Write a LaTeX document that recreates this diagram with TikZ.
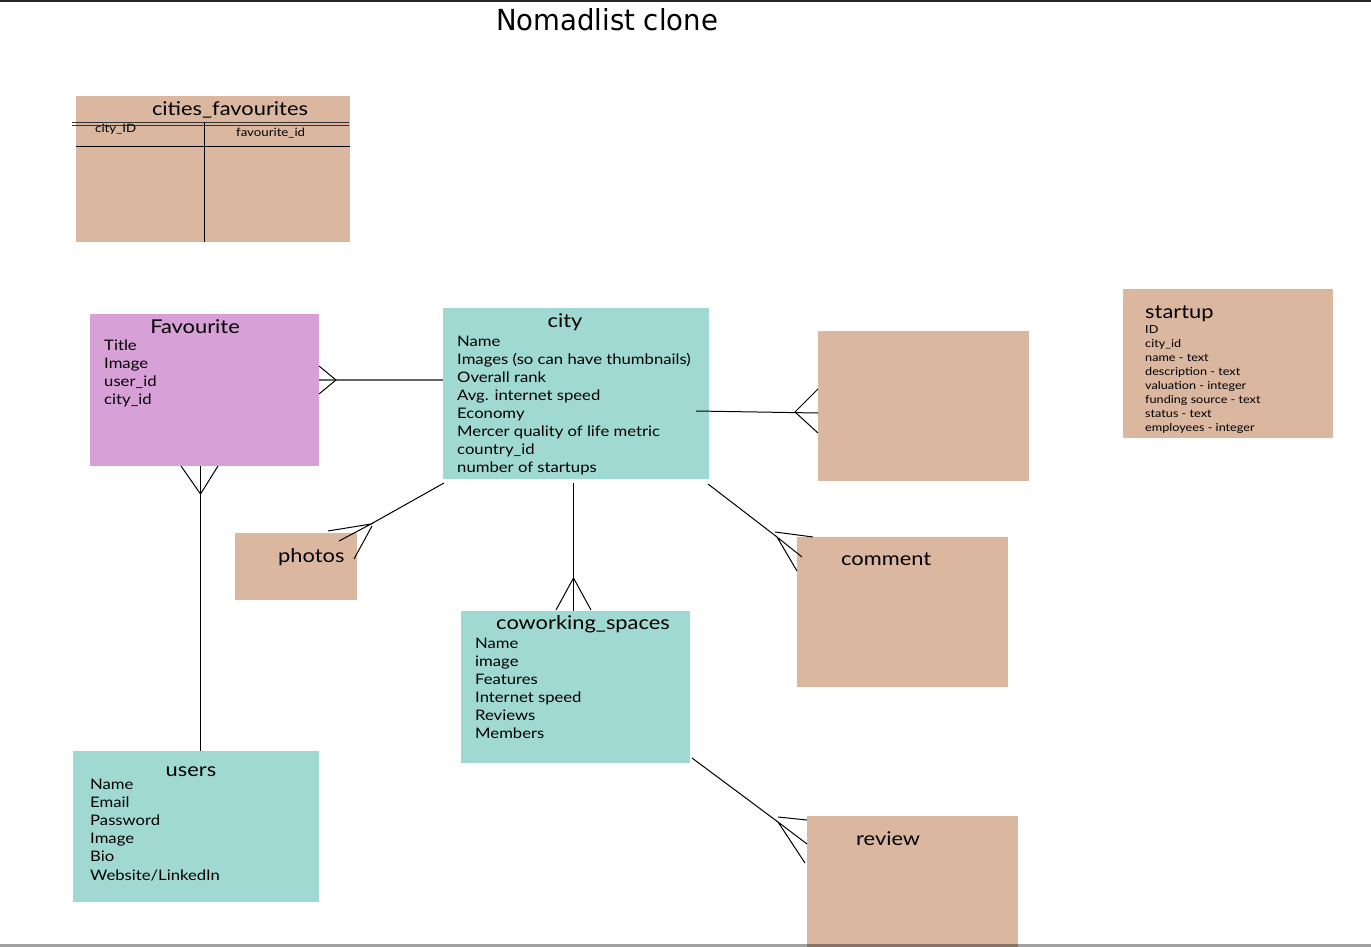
\documentclass[tikz,border=0pt]{standalone}
\usepackage{fontspec}
\setmainfont[FakeStretch=1.15]{Lato}
\newfontfamily\titlefont[FakeStretch=0.95]{DejaVu Sans}
\definecolor{tan}{RGB}{219,183,160}
\definecolor{teal}{RGB}{160,217,210}
\definecolor{lilac}{RGB}{215,161,215}
\begin{document}
\begin{tikzpicture}[x=1pt,y=-1pt,
  ent/.style={draw=none,anchor=north west,inner sep=0pt,outer sep=0pt},
  tanbox/.style={ent,fill=tan},
  tealbox/.style={ent,fill=teal},
  lilacbox/.style={ent,fill=lilac},
  hdr/.style={anchor=base,inner sep=0pt,font=\fontsize{19}{19}\selectfont},
  hdrl/.style={anchor=base west,inner sep=0pt,font=\fontsize{19}{19}\selectfont},
  item/.style={anchor=base west,inner sep=0pt,font=\fontsize{14.5}{14.5}\selectfont},
  small/.style={anchor=base west,inner sep=0pt,font=\fontsize{11}{11}\selectfont},
  cell/.style={anchor=base west,inner sep=0pt,font=\fontsize{11.5}{11.5}\selectfont},
  rel/.style={draw=black,line width=1pt},
  grel/.style={draw=black!60,line width=1.8pt}]
\useasboundingbox (0,0) rectangle (1371,947);
\fill[white] (0,0) rectangle (1371,947);
\draw[line width=2pt,black!85] (0,1) -- (1371,1);
\node[anchor=base,inner sep=0pt,font=\titlefont\fontsize{29}{29}\selectfont] (title) at (607,31) {Nomadlist clone};

% cities_favourites
\node[tanbox,minimum width=274pt,minimum height=146pt] (cf) at (76,96) {};
\node[hdr] (cft) at (230,116) {cities\_favourites};
\draw[black!80,line width=0.9pt] (72,122) -- (349,122) (72,125.5) -- (349,125.5);
\draw[black,line width=0.9pt] (cf.west |- 0,146) -- (cf.east |- 0,146);
\draw[black,line width=0.9pt] (204.5,122) -- (204.5,242);
\node[cell] (cfa) at (95,133) {city\_ID};
\node[cell] (cfb) at (236,137) {favourite\_id};

% startup
\node[tanbox,minimum width=210pt,minimum height=149pt] (startup) at (1123,289) {};
\node[hdrl] (st) at (1145,318) {startup};
\foreach \t [count=\i] in {ID,city\_id,name - text,description - text,valuation - integer,funding source - text,status - text,employees - integer}
  \node[small] (st\i) at (1145,{333+14*(\i-1)}) {\t};

% Favourite
\node[lilacbox,minimum width=229pt,minimum height=152pt] (fav) at (90,314) {};
\node[hdr] (favt) at (195,333) {Favourite};
\foreach \t [count=\i] in {Title,Image,user\_id,city\_id}
  \node[item] (fa\i) at (104,{350+18*(\i-1)}) {\t};

% city
\node[tealbox,minimum width=266pt,minimum height=171pt] (city) at (443,308) {};
\node[hdr] (cityt) at (565,327) {city};
\foreach \t [count=\i] in {Name,Images (so can have thumbnails),Overall rank,Avg. internet speed,Economy,Mercer quality of life metric,country\_id,number of startups}
  \node[item] (ci\i) at (457,{346+18*(\i-1)}) {\t};

% empty box
\node[tanbox,minimum width=211pt,minimum height=150pt] (blank) at (818,331) {};

% comment
\node[tanbox,minimum width=211pt,minimum height=150pt] (comment) at (797,537) {};
\node[hdrl] (comt) at (841,565) {comment};

% photos
\node[tanbox,minimum width=122pt,minimum height=67pt] (photos) at (235,533) {};
\node[hdrl] (pht) at (278,562) {photos};

% coworking
\node[tealbox,minimum width=229pt,minimum height=152pt] (cow) at (461,611) {};
\node[hdr] (cowt) at (583,629) {coworking\_spaces};
\foreach \t [count=\i] in {Name,image,Features,Internet speed,Reviews,Members}
  \node[item] (co\i) at (475,{648+18*(\i-1)}) {\t};

% users
\node[tealbox,minimum width=246pt,minimum height=151pt] (users) at (73,751) {};
\node[hdr] (ust) at (191,776) {users};
\foreach \t [count=\i] in {Name,Email,Password,Image,Bio,Website/LinkedIn}
  \node[item] (us\i) at (90,{789+18.2*(\i-1)}) {\t};

% review
\node[tanbox,minimum width=211pt,minimum height=135pt] (review) at (807,816) {};
\node[hdrl] (revt) at (856,845) {review};

% connectors
% Favourite - city
\coordinate (j1) at (336,380);
\draw[grel] (fav.east |- j1) -- (city.west |- j1);
\draw[rel] (fav.east |- 0,366) -- (j1) -- (fav.east |- 0,394);
% city - blank
\coordinate (c2a) at (696,411);
\coordinate (j2) at (795,412);
\draw[rel] (c2a) -- (blank.west |- 0,413);
\draw[rel] (blank.west |- 0,389) -- (j2) -- (blank.west |- 0,433);
% Favourite - users
\coordinate (j3) at (200.5,494);
\draw[rel] (fav.south -| j3) -- (users.north -| j3);
\draw[rel] (181,466) -- (j3) -- (218,466);
% city - photos
\coordinate (c4a) at (444,483);
\coordinate (j4) at (371,524);
\coordinate (j4b) at (372,526);
\draw[rel] (c4a) -- (j4);
\draw[rel] (328,531) -- (j4) -- (339,541);
\draw[rel] (j4b) -- (354,559);
% city - comment
\coordinate (c5a) at (708,484);
\coordinate (j5) at (777,537);
\coordinate (j5b) at (775,532);
\draw[rel] (c5a) -- (j5);
\draw[rel] (j5b) -- (813,537);
\draw[rel] (802,557) -- (j5) -- (797,571);
% city - coworking
\coordinate (c6a) at (573.5,483);
\coordinate (j6) at (573.5,578);
\draw[rel] (c6a) -- (cow.north -| c6a);
\draw[rel] (556,610) -- (j6) -- (591,610);
% coworking - review
\coordinate (c7a) at (692,758);
\coordinate (j7) at (778,822);
\coordinate (j7b) at (778,817);
\draw[rel] (c7a) -- (j7);
\draw[rel] (j7b) -- (review.west |- 0,820);
\draw[rel] (review.west |- 0,844) -- (j7) -- (805,863);

\draw[line width=3pt,black,opacity=0.37] (0,945.5) -- (1371,945.5);
\end{tikzpicture}
\end{document}
